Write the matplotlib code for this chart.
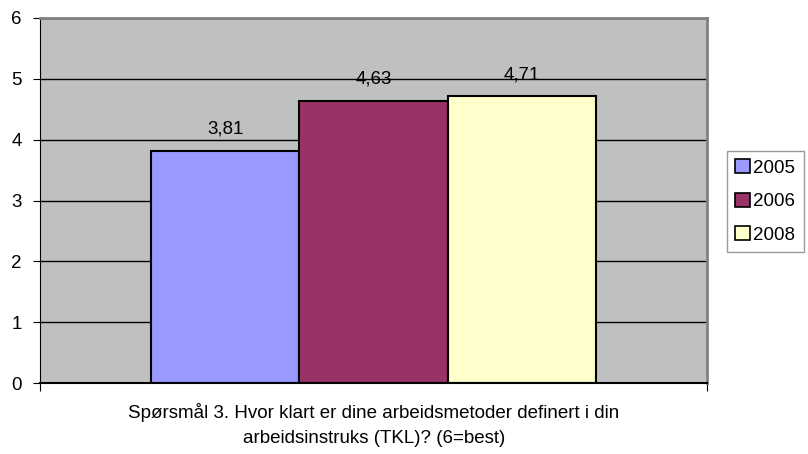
import numpy as np
import matplotlib.pyplot as plt
from matplotlib.patches import Patch

plt.rcParams['font.family'] = ['Liberation Sans', 'DejaVu Sans']

# data
years = ['2005', '2006', '2008']
values = [3.81, 4.63, 4.71]
colors = ['#9999FF', '#993366', '#FFFFCC']
title = 'Spørsmål 3. Hvor klart er dine arbeidsmetoder definert i din\narbeidsinstruks (TKL)? (6=best)'

fig = plt.figure(figsize=(8.08, 4.54), dpi=100)
ax = fig.add_axes([40 / 808, 71 / 454, 667 / 808, 365 / 454])
ax.set_facecolor('#C0C0C0')

w = 0.222
x = np.arange(len(years)) * w - w
for i in range(len(years)):
    ax.bar(x[i], values[i], width=w, color=colors[i], edgecolor='black', linewidth=1.5, zorder=2)
    ax.text(x[i], values[i] + 0.22, f'{values[i]:.2f}'.replace('.', ','),
            ha='center', va='bottom', fontsize=13.5, zorder=4)

ax.set_xlim(-0.5, 0.5)
ax.set_ylim(0, 6)
ax.set_yticks(range(7))
ax.yaxis.grid(True, color='black', linewidth=1)
ax.set_axisbelow(True)
ax.set_xticks([-0.5, 0.5])
ax.set_xticklabels(['', ''])
ax.tick_params(axis='y', labelsize=13.5, length=5, direction='out', pad=8)
ax.tick_params(axis='x', length=6, direction='out')
ax.spines['left'].set_color('black')
ax.spines['bottom'].set_color('black')
ax.spines['bottom'].set_linewidth(1.5)
ax.spines['top'].set_color('#808080')
ax.spines['right'].set_color('#808080')
ax.spines['top'].set_linewidth(2)
ax.spines['right'].set_linewidth(2)

fig.text(374 / 808, 1 - 425 / 454, title, ha='center', va='center', fontsize=13.5, linespacing=1.65)

handles = [Patch(facecolor=c, edgecolor='black', linewidth=1.2) for c in colors]
leg = fig.legend(handles, years, loc='upper left', bbox_to_anchor=(727 / 808, 1 - 151 / 454),
                 fontsize=13.5, frameon=True, fancybox=False, borderpad=0.45,
                 handlelength=0.75, handleheight=0.75, handletextpad=0.2, labelspacing=0.85,
                 borderaxespad=0)
leg.get_frame().set_edgecolor('#808080')
leg.get_frame().set_linewidth(1)

fig.savefig('out.png', dpi=100)
